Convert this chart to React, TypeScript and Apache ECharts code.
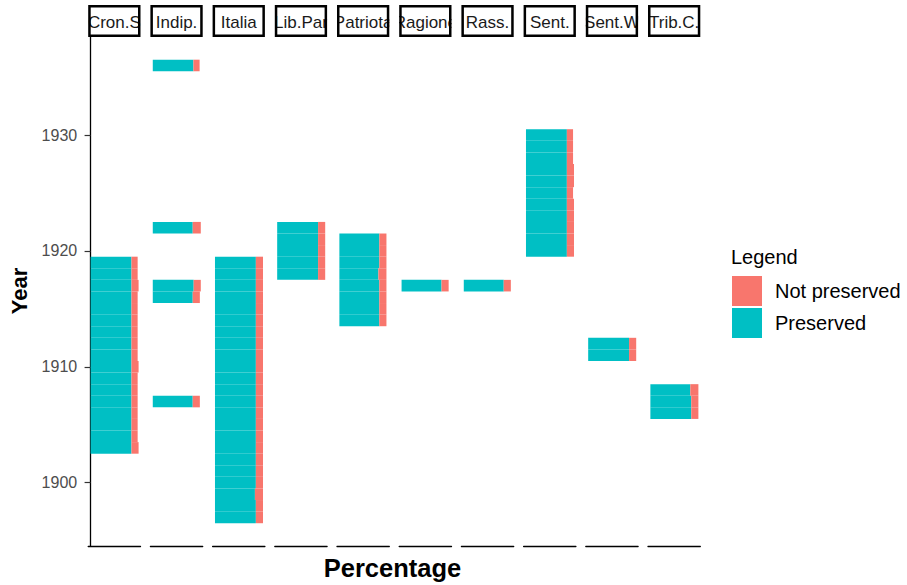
import React, { useEffect, useRef } from "react";
import * as echarts from "echarts";

// ---- data ----
const panelNames = ["Cron.S", "Indip.", "Italia", "Lib.Par", "Patriota", "Ragione", "Rass.", "Sent.", "Sent.W", "Trib.C."];
const YEAR_MIN = 1895;
const YEAR_MAX = 1938;
const legendNames = ["Not preserved", "Preserved"];

// [year, preserved %, not preserved %]
const cronS: [number, number, number][] = [
  [1903, 86, 15], [1904, 86, 13], [1905, 86, 13], [1906, 86, 13], [1907, 86, 13], [1908, 86, 13],
  [1909, 86, 13], [1910, 86, 15], [1911, 86, 13], [1912, 86, 13], [1913, 86, 13], [1914, 86, 13],
  [1915, 86, 13], [1916, 86, 13], [1917, 86, 15], [1918, 86, 13], [1919, 86, 13],
];
const indip: [number, number, number][] = [
  [1907, 84, 15], [1916, 84, 15], [1917, 86, 15], [1922, 84, 17], [1936, 85.5, 13],
];
const italia: [number, number, number][] = [
  [1897, 86, 15], [1898, 86, 15], [1899, 84, 17], [1900, 86, 15], [1901, 86, 15], [1902, 86, 15],
  [1903, 86, 15], [1904, 86, 15], [1905, 86, 15], [1906, 86, 15], [1907, 86, 15], [1908, 86, 15],
  [1909, 86, 15], [1910, 86, 15], [1911, 86, 15], [1912, 86, 15], [1913, 86, 15], [1914, 86, 15],
  [1915, 86, 15], [1916, 86, 15], [1917, 86, 15], [1918, 86, 15], [1919, 86, 15],
];
const libPar: [number, number, number][] = [
  [1918, 86, 15], [1919, 86, 15], [1920, 86, 15], [1921, 86, 15], [1922, 86, 15],
];
const patriota: [number, number, number][] = [
  [1914, 84, 15], [1915, 84, 15], [1916, 84, 15], [1917, 84, 15], [1918, 82, 17],
  [1919, 84, 15], [1920, 84, 15], [1921, 84, 15],
];
const ragione: [number, number, number][] = [[1917, 84, 15]];
const rass: [number, number, number][] = [[1917, 84, 15]];
const sent: [number, number, number][] = [
  [1920, 86, 15], [1921, 86, 15], [1922, 86, 15], [1923, 86, 15], [1924, 86, 15], [1925, 86, 13],
  [1926, 86, 15], [1927, 86, 15], [1928, 86, 13], [1929, 86, 13], [1930, 86, 13],
];
const sentW: [number, number, number][] = [[1911, 86, 15], [1912, 86, 15]];
const tribC: [number, number, number][] = [[1906, 86, 15], [1907, 86, 15], [1908, 84, 17]];

const panelData = [cronS, indip, italia, libPar, patriota, ragione, rass, sent, sentW, tribC];

// ---- styling / layout ----
const FONT = "'Liberation Sans', Arial, Helvetica, sans-serif";
const CYAN = "#00BFC4";
const SALMON = "#F8766D";
const L0 = 88.2;
const STEP = 62.2;
const PW = 52.3;
const TOP = 36.5;
const PH = 509.9;

export default function App() {
  const ref = useRef<HTMLDivElement>(null);

  useEffect(() => {
    document.body.style.margin = "0";
    if (!ref.current) return;
    const chart = echarts.init(ref.current, undefined, { renderer: "svg" });

    const yearCats: string[] = [];
    for (let y = YEAR_MIN; y <= YEAR_MAX; y++) yearCats.push(String(y));
    const tenth = (_i: number, v: string) => Number(v) % 10 === 0;

    const col = (rows: [number, number, number][], k: number) =>
      yearCats.map((y) => {
        const r = rows.find((row) => row[0] === Number(y));
        return r ? r[k] : null;
      });

    const grids = panelNames.map((_, i) => ({
      left: L0 + i * STEP,
      top: TOP,
      width: PW,
      height: PH,
      containLabel: false,
    }));

    const xAxes = panelNames.map((_, i) => ({
      type: "value",
      gridIndex: i,
      min: -5,
      max: 105,
      axisLine: { show: true, onZero: false, lineStyle: { color: "#000", width: 1.3 } },
      axisTick: { show: false },
      axisLabel: { show: false },
      splitLine: { show: false },
    }));

    const yAxes = panelNames.map((_, i) => ({
      type: "category",
      gridIndex: i,
      data: yearCats,
      boundaryGap: true,
      axisLine: { show: i === 0, lineStyle: { color: "#000", width: 1.3 } },
      axisTick: {
        show: i === 0,
        alignWithLabel: true,
        interval: tenth,
        length: 6,
        lineStyle: { color: "#333", width: 1.2 },
      },
      axisLabel: {
        show: i === 0,
        interval: tenth,
        color: "#4d4d4d",
        fontSize: 16,
        fontFamily: FONT,
        margin: 11,
      },
      splitLine: { show: false },
    }));

    const series: any[] = [];
    panelData.forEach((rows, i) => {
      series.push({
        name: "Preserved",
        type: "bar",
        xAxisIndex: i,
        yAxisIndex: i,
        stack: "s" + i,
        barCategoryGap: "0%",
        data: col(rows, 1),
        itemStyle: { color: CYAN },
      });
      series.push({
        name: "Not preserved",
        type: "bar",
        xAxisIndex: i,
        yAxisIndex: i,
        stack: "s" + i,
        barCategoryGap: "0%",
        data: col(rows, 2),
        itemStyle: { color: SALMON },
      });
    });

    const graphics: any[] = [];
    const STRIP_TOP = 5;
    const STRIP_H = 32;
    const BW = 2.5;
    panelNames.forEach((name, i) => {
      const left = L0 + i * STEP;
      graphics.push({
        type: "rect",
        z: 90,
        shape: { x: left, y: STRIP_TOP, width: PW, height: STRIP_H },
        style: { fill: "#fff" },
      });
      graphics.push({
        type: "text",
        z: 91,
        x: left + PW / 2,
        y: STRIP_TOP + STRIP_H / 2 + 1,
        style: {
          text: name,
          align: "center",
          verticalAlign: "middle",
          fill: "#1a1a1a",
          font: `17px ${FONT}`,
        },
      });
      // covers that clip overflowing strip text
      graphics.push({
        type: "rect",
        z: 92,
        shape: { x: left - (i === 0 ? 30 : STEP - PW), y: 0, width: i === 0 ? 30 : STEP - PW, height: STRIP_TOP + STRIP_H + 0.5 },
        style: { fill: "#fff" },
      });
      if (i === panelNames.length - 1) {
        graphics.push({
          type: "rect",
          z: 92,
          shape: { x: left + PW, y: 0, width: 25, height: STRIP_TOP + STRIP_H + 0.5 },
          style: { fill: "#fff" },
        });
      }
      graphics.push({
        type: "rect",
        z: 93,
        shape: { x: left + BW / 2, y: STRIP_TOP + BW / 2, width: PW - BW, height: STRIP_H - BW },
        style: { fill: "none", stroke: "#000", lineWidth: BW },
      });
    });

    graphics.push({
      type: "text",
      z: 95,
      x: 19.5,
      y: 291,
      rotation: Math.PI / 2,
      style: {
        text: "Year",
        align: "center",
        verticalAlign: "middle",
        fill: "#000",
        font: `bold 22px ${FONT}`,
      },
    });
    graphics.push({
      type: "text",
      z: 95,
      x: 392.5,
      y: 567.5,
      style: {
        text: "Percentage",
        align: "center",
        verticalAlign: "middle",
        fill: "#000",
        font: `bold 25.5px ${FONT}`,
      },
    });
    graphics.push({
      type: "text",
      z: 95,
      x: 731,
      y: 257,
      style: {
        text: "Legend",
        align: "left",
        verticalAlign: "middle",
        fill: "#000",
        font: `20px ${FONT}`,
      },
    });

    chart.setOption({
      animation: false,
      backgroundColor: "#fff",
      grid: grids,
      xAxis: xAxes,
      yAxis: yAxes,
      series,
      legend: {
        data: legendNames,
        orient: "vertical",
        left: 732,
        top: 276,
        padding: 0,
        itemWidth: 30,
        itemHeight: 30,
        itemGap: 2,
        icon: "rect",
        selectedMode: false,
        textStyle: { fontSize: 20, color: "#000", fontFamily: FONT, padding: [0, 0, 0, 8] },
      },
      graphic: graphics,
    });

    return () => chart.dispose();
  }, []);

  return (
    <div
      ref={ref}
      style={{ position: "fixed", left: 0, top: 0, width: 907, height: 585, background: "#fff" }}
    />
  );
}
